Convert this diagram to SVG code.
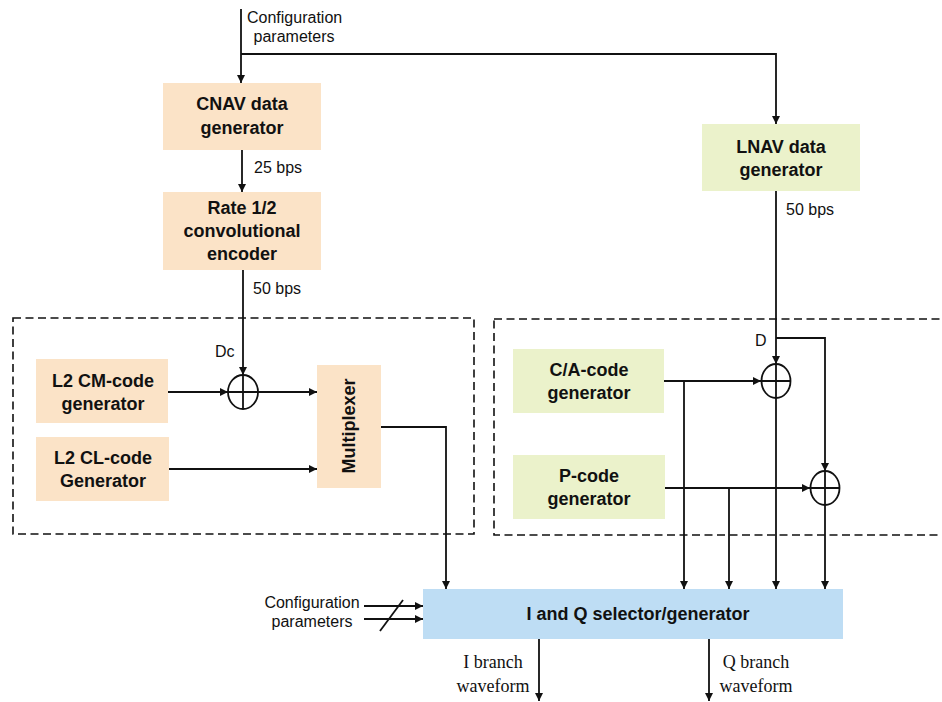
<svg xmlns="http://www.w3.org/2000/svg" width="942" height="702" viewBox="0 0 942 702">
<style>
.bg{fill:#ffffff}
.peach{fill:#FBE3C7}
.green{fill:#EBF2CB}
.blue{fill:#BEDDF4}
.lbl{font-family:"Liberation Sans",Arial,sans-serif;font-weight:bold;font-size:18px;fill:#111;text-anchor:middle}
.sm{font-family:"Liberation Sans",Arial,sans-serif;font-size:16px;fill:#111}
.ser{font-family:"Liberation Serif","Times New Roman",serif;font-size:18px;fill:#111;text-anchor:middle}
.dash{fill:none;stroke:#111;stroke-width:1.6;stroke-dasharray:8,4.5}
.ln{fill:none;stroke:#111;stroke-width:1.8}
.arr{marker-end:url(#ah)}
.xor{fill:#fff;stroke:#111;stroke-width:1.8}
</style>
<defs>
<marker id="ah" markerUnits="userSpaceOnUse" markerWidth="9" markerHeight="8" refX="8" refY="4" orient="auto">
<path d="M0,0 L8,4 L0,8 z" fill="#111"/>
</marker>
</defs>
<rect class="bg" x="0" y="0" width="942" height="702"/>

<g id="groups">
<rect class="dash" x="13" y="318" width="461" height="216"/>
<rect class="dash" x="494" y="319" width="470" height="216"/>
</g>

<g id="connectors">
<path class="ln arr" d="M241,9 V83"/>
<path class="ln arr" d="M241,54 H776 V124"/>
<path class="ln arr" d="M242,150 V192"/>
<path class="ln arr" d="M243,270 V375"/>
<path class="ln arr" d="M168,392 H228"/>
<path class="ln arr" d="M258,392 H317"/>
<path class="ln arr" d="M169,469 H317"/>
<path class="ln arr" d="M381,427 H446 V589"/>
<path class="ln arr" d="M776,191 V364"/>
<path class="ln arr" d="M776,338 H825 V471"/>
<path class="ln arr" d="M664,381 H761"/>
<path class="ln arr" d="M684,381 V589"/>
<path class="ln arr" d="M665,488 H810"/>
<path class="ln arr" d="M729,488 V589"/>
<path class="ln arr" d="M776,398 V589"/>
<path class="ln arr" d="M825,505 V589"/>
<path class="ln arr" d="M364,606 H423"/>
<path class="ln arr" d="M364,619 H423"/>
<path class="ln" d="M380,631 L403,600"/>
<path class="ln arr" d="M539,639 V701"/>
<path class="ln arr" d="M709,639 V701"/>
</g>

<g id="xor-dc">
<ellipse class="xor" cx="243" cy="392" rx="15" ry="17"/>
<path class="ln" d="M228,392 H258 M243,375 V409"/>
</g>
<g id="xor-ca">
<ellipse class="xor" cx="776" cy="381" rx="14.5" ry="17"/>
<path class="ln" d="M761.5,381 H790.5 M776,364 V398"/>
</g>
<g id="xor-p">
<ellipse class="xor" cx="825" cy="488" rx="14.5" ry="17"/>
<path class="ln" d="M810.5,488 H839.5 M825,471 V505"/>
</g>

<g id="cnav">
<rect class="peach" x="163" y="83" width="158" height="67"/>
<text class="lbl" x="242" y="110">CNAV data</text>
<text class="lbl" x="242" y="134">generator</text>
</g>
<g id="rate">
<rect class="peach" x="163" y="192" width="158" height="78"/>
<text class="lbl" x="242" y="214">Rate 1/2</text>
<text class="lbl" x="242" y="237">convolutional</text>
<text class="lbl" x="242" y="260">encoder</text>
</g>
<g id="lnav">
<rect class="green" x="702" y="124" width="158" height="67"/>
<text class="lbl" x="781" y="153">LNAV data</text>
<text class="lbl" x="781" y="176">generator</text>
</g>
<g id="l2cm">
<rect class="peach" x="36" y="359" width="132" height="64"/>
<text class="lbl" x="103" y="387">L2 CM-code</text>
<text class="lbl" x="103" y="410">generator</text>
</g>
<g id="l2cl">
<rect class="peach" x="36" y="437" width="133" height="64"/>
<text class="lbl" x="103" y="464">L2 CL-code</text>
<text class="lbl" x="103" y="487">Generator</text>
</g>
<g id="mux">
<rect class="peach" x="317" y="365" width="64" height="123"/>
<text class="lbl" transform="translate(355,426) rotate(-90)" x="0" y="0">Multiplexer</text>
</g>
<g id="ca">
<rect class="green" x="513" y="349" width="151" height="64"/>
<text class="lbl" x="589" y="376">C/A-code</text>
<text class="lbl" x="589" y="399">generator</text>
</g>
<g id="pcode">
<rect class="green" x="513" y="455" width="152" height="64"/>
<text class="lbl" x="589" y="482">P-code</text>
<text class="lbl" x="589" y="505">generator</text>
</g>
<g id="iq">
<rect class="blue" x="423" y="589" width="420" height="50"/>
<text class="lbl" x="638" y="620">I and Q selector/generator</text>
</g>

<g id="labels">
<text class="sm" x="247" y="23">Configuration</text>
<text class="sm" x="294" y="42" text-anchor="middle">parameters</text>
<text class="sm" x="254" y="173">25 bps</text>
<text class="sm" x="253" y="294">50 bps</text>
<text class="sm" x="786" y="215">50 bps</text>
<text class="sm" x="215" y="357">Dc</text>
<text class="sm" x="755" y="346">D</text>
<text class="sm" x="312" y="608" text-anchor="middle">Configuration</text>
<text class="sm" x="312" y="627" text-anchor="middle">parameters</text>
<text class="ser" x="493" y="668">I branch</text>
<text class="ser" x="493" y="692">waveform</text>
<text class="ser" x="756" y="668">Q branch</text>
<text class="ser" x="756" y="692">waveform</text>
</g>
</svg>
